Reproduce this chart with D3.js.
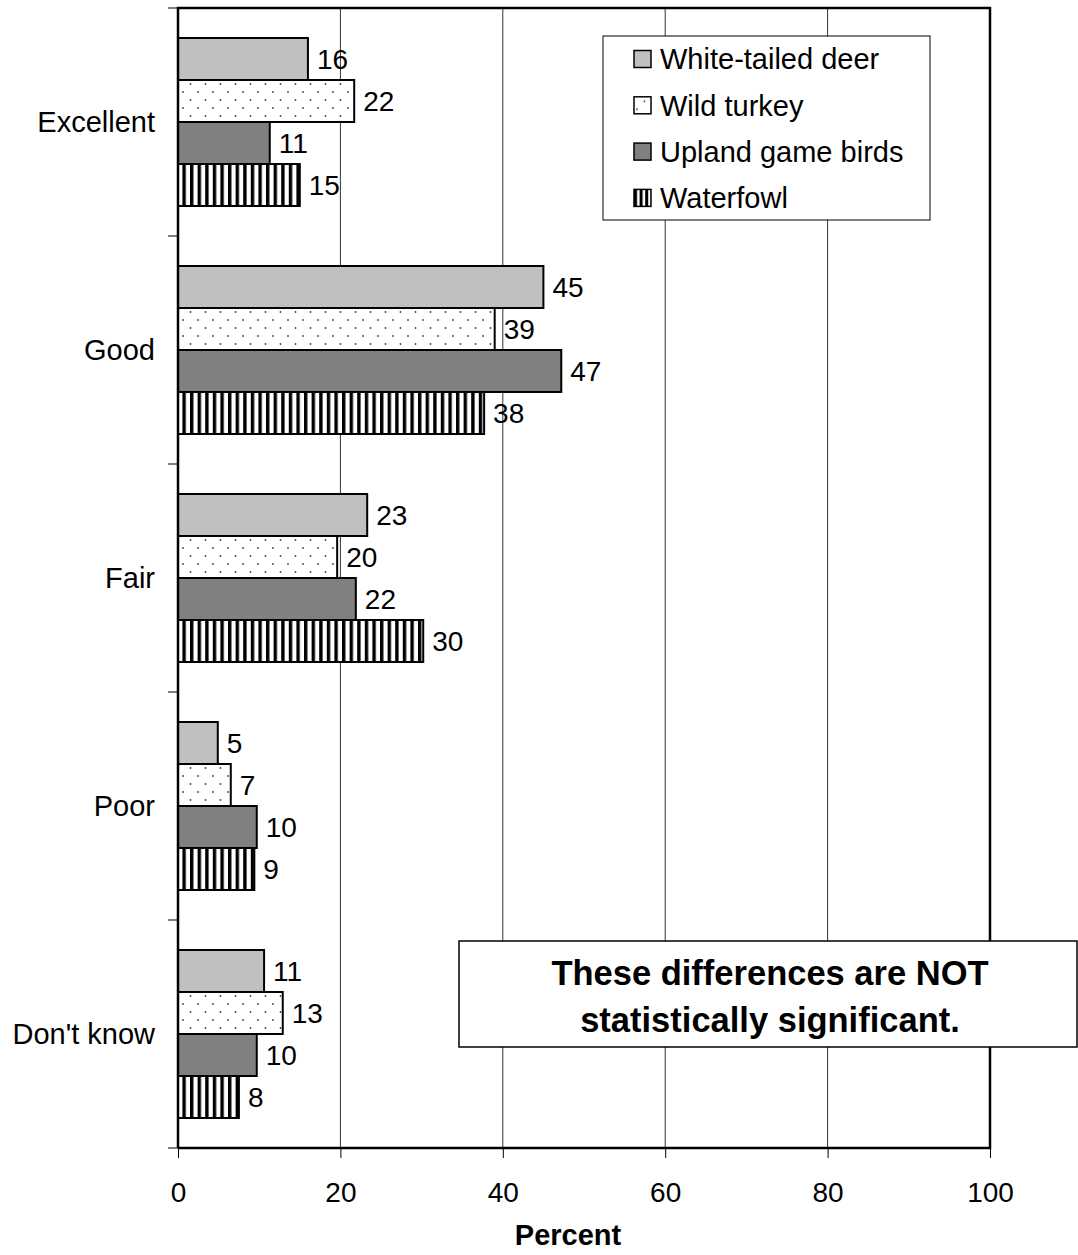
<!DOCTYPE html>
<html>
<head>
<meta charset="utf-8">
<script src="https://cdn.jsdelivr.net/npm/d3@7"></script>
<style>
  body { margin: 0; background: #fff; }
  text { font-family: Arial, "Liberation Sans", sans-serif; fill: #000; }
</style>
</head>
<body>
<svg id="area" width="1078" height="1255"></svg>
<script>
const categories = ['Excellent', 'Good', 'Fair', 'Poor', "Don't know"];
const series = ['White-tailed deer', 'Wild turkey', 'Upland game birds', 'Waterfowl'];
const deer = [16.0, 45.0, 23.3, 4.9, 10.6];
const turkey = [21.7, 39.0, 19.6, 6.5, 12.9];
const upland = [11.3, 47.2, 21.9, 9.7, 9.7];
const waterfowl = [15.0, 37.7, 30.2, 9.4, 7.5];
const xTicks = [0, 20, 40, 60, 80, 100];
const note = ['These differences are NOT', 'statistically significant.'];

const values = [deer, turkey, upland, waterfowl];
const fills = ['#c0c0c0', 'url(#dots)', '#808080', 'url(#stripes)'];

const svg = d3.select('#area');
const plotLeft = 178;
const plotRight = 990;
const plotTop = 8;
const plotBottom = 1148;

const x = d3.scaleLinear().domain([0, 100]).range([plotLeft, plotRight]);
const y = d3.scaleBand().domain(categories).range([plotTop, plotBottom]);
const ySub = d3.scaleBand().domain(series).range([30, y.bandwidth() - 30]);

// patterns
const defs = svg.append('defs');
const dots = defs.append('pattern')
  .attr('id', 'dots')
  .attr('patternUnits', 'userSpaceOnUse')
  .attr('width', 15)
  .attr('height', 16);
dots.append('rect').attr('width', 15).attr('height', 16).attr('fill', '#fff');
dots.append('circle').attr('cx', 3).attr('cy', 4).attr('r', 0.9).attr('fill', '#444');
dots.append('circle').attr('cx', 10.5).attr('cy', 12).attr('r', 0.9).attr('fill', '#444');

const stripes = defs.append('pattern')
  .attr('id', 'stripes')
  .attr('patternUnits', 'userSpaceOnUse')
  .attr('width', 7.6)
  .attr('height', 10);
stripes.append('rect').attr('width', 7.6).attr('height', 10).attr('fill', '#fff');
stripes.append('rect').attr('x', 0).attr('width', 3.4).attr('height', 10).attr('fill', '#000');

const legendStripes = defs.append('pattern')
  .attr('id', 'legendStripes')
  .attr('patternUnits', 'userSpaceOnUse')
  .attr('width', 5.6)
  .attr('height', 10);
legendStripes.append('rect').attr('width', 5.6).attr('height', 10).attr('fill', '#fff');
legendStripes.append('rect').attr('x', 0).attr('width', 3).attr('height', 10).attr('fill', '#000');

// gridlines
svg.append('g')
  .selectAll('line')
  .data(xTicks.slice(1, -1))
  .join('line')
  .attr('x1', (d) => x(d))
  .attr('x2', (d) => x(d))
  .attr('y1', plotTop)
  .attr('y2', plotBottom)
  .attr('stroke', '#333')
  .attr('stroke-width', 1);

// bars
const groups = svg.append('g')
  .selectAll('g')
  .data(categories)
  .join('g')
  .attr('transform', (d) => `translate(0,${y(d)})`);

groups.selectAll('rect')
  .data((d, i) => series.map((s, j) => ({ s, j, v: values[j][i] })))
  .join('rect')
  .attr('x', x(0))
  .attr('y', (d) => ySub(d.s))
  .attr('width', (d) => x(d.v) - x(0))
  .attr('height', ySub.bandwidth())
  .attr('fill', (d) => fills[d.j])
  .attr('stroke', '#000')
  .attr('stroke-width', 2);

groups.selectAll('text')
  .data((d, i) => series.map((s, j) => ({ s, j, v: values[j][i] })))
  .join('text')
  .attr('x', (d) => x(d.v) + 9)
  .attr('y', (d) => ySub(d.s) + ySub.bandwidth() / 2)
  .attr('dy', '0.36em')
  .attr('font-size', 28)
  .text((d) => Math.round(d.v));

// frame
svg.append('path')
  .attr('d', `M${plotLeft},${plotBottom}V${plotTop}H${plotRight}V${plotBottom}H${plotLeft}`)
  .attr('fill', 'none')
  .attr('stroke', '#000')
  .attr('stroke-width', 2.5);

// axes
const yAxis = svg.append('g');
yAxis.selectAll('line')
  .data(categories.map((c) => y(c)).concat([plotBottom]))
  .join('line')
  .attr('x1', plotLeft - 10)
  .attr('x2', plotLeft)
  .attr('y1', (d) => d)
  .attr('y2', (d) => d)
  .attr('stroke', '#000')
  .attr('stroke-width', 1);
yAxis.selectAll('text')
  .data(categories)
  .join('text')
  .attr('x', 155)
  .attr('y', (d) => y(d) + y.bandwidth() / 2)
  .attr('dy', '0.36em')
  .attr('text-anchor', 'end')
  .attr('font-size', 29)
  .text((d) => d);

const xAxis = svg.append('g')
  .attr('transform', `translate(0,${plotBottom})`)
  .call(d3.axisBottom(x).tickValues(xTicks).tickSize(10).tickPadding(24));
xAxis.select('.domain').remove();
xAxis.selectAll('.tick line').attr('stroke', '#000');
xAxis.selectAll('.tick text')
  .attr('font-size', 28)
  .attr('font-family', 'Arial, "Liberation Sans", sans-serif')
  .attr('fill', '#000');

svg.append('text')
  .attr('x', 568)
  .attr('y', 1245)
  .attr('text-anchor', 'middle')
  .attr('font-size', 29)
  .attr('font-weight', 'bold')
  .text('Percent');

// legend
const legend = svg.append('g');
legend.append('rect')
  .attr('x', 603)
  .attr('y', 36)
  .attr('width', 327)
  .attr('height', 184)
  .attr('fill', '#fff')
  .attr('stroke', '#000')
  .attr('stroke-width', 1);
const legendFills = ['#c0c0c0', 'url(#dots)', '#808080', 'url(#legendStripes)'];
const items = legend.selectAll('g')
  .data(series)
  .join('g')
  .attr('transform', (d, i) => `translate(634,${59 + i * 46.3})`);
items.append('rect')
  .attr('x', 0)
  .attr('y', -8.5)
  .attr('width', 17)
  .attr('height', 17)
  .attr('fill', (d, i) => legendFills[i])
  .attr('stroke', '#000')
  .attr('stroke-width', 1.5);
items.append('text')
  .attr('x', 26)
  .attr('y', 0)
  .attr('dy', '0.36em')
  .attr('font-size', 29)
  .text((d) => d);

// annotation
svg.append('rect')
  .attr('x', 459)
  .attr('y', 941)
  .attr('width', 618)
  .attr('height', 106)
  .attr('fill', '#fff')
  .attr('stroke', '#000')
  .attr('stroke-width', 1.5);
svg.append('g')
  .selectAll('text')
  .data(note)
  .join('text')
  .attr('x', 770)
  .attr('y', (d, i) => 973 + i * 47)
  .attr('dy', '0.36em')
  .attr('text-anchor', 'middle')
  .attr('font-size', 34.5)
  .attr('font-weight', 'bold')
  .text((d) => d);
</script>
</body>
</html>
